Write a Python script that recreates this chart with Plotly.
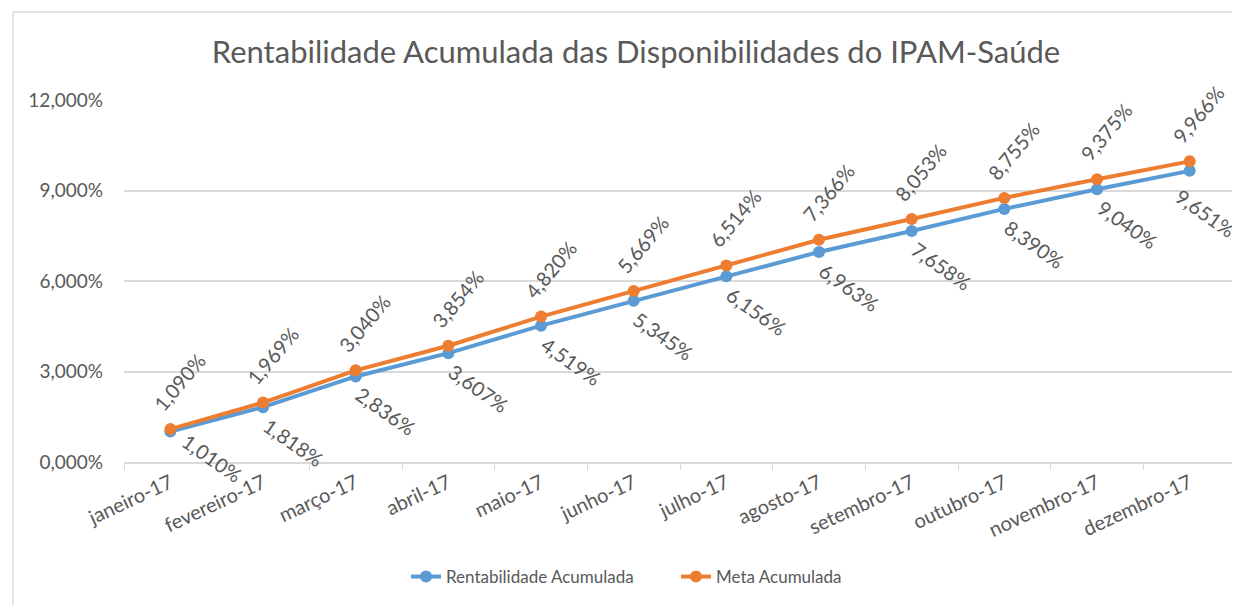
import plotly.graph_objects as go

meses = ["janeiro-17", "fevereiro-17", "março-17", "abril-17", "maio-17", "junho-17",
         "julho-17", "agosto-17", "setembro-17", "outubro-17", "novembro-17", "dezembro-17"]
rentabilidade = [1.010, 1.818, 2.836, 3.607, 4.519, 5.345, 6.156, 6.963, 7.658, 8.390, 9.040, 9.651]
meta = [1.090, 1.969, 3.040, 3.854, 4.820, 5.669, 6.514, 7.366, 8.053, 8.755, 9.375, 9.966]
y_ticks = [0, 3, 6, 9, 12]
y_ticktext = ["0,000%", "3,000%", "6,000%", "9,000%", "12,000%"]

BLUE = "#5B9BD5"
ORANGE = "#ED7D31"
GRAY = "#595959"
FONT = "Lato"

# page has an 8px body margin; figure drawn 8px smaller to fit the window
W, H = 1232, 597
L, R, T, B = 116, 4, 92, 143
PW, PH = W - L - R, H - T - B

def fmt(v):
    return f"{v:.3f}".replace(".", ",") + "%"

fig = go.Figure()
fig.add_trace(go.Scatter(x=meses, y=rentabilidade, name="Rentabilidade Acumulada",
                         mode="lines+markers", line=dict(color=BLUE, width=4),
                         marker=dict(size=12, color=BLUE)))
fig.add_trace(go.Scatter(x=meses, y=meta, name="Meta Acumulada",
                         mode="lines+markers", line=dict(color=ORANGE, width=4),
                         marker=dict(size=12, color=ORANGE)))

ann = []
for m, v in zip(meses, meta):
    ann.append(dict(x=m, y=v, xref="x", yref="y", text=fmt(v), showarrow=False,
                    textangle=-50, xshift=9, yshift=47,
                    font=dict(family=FONT, size=20, color=GRAY)))
n = len(meses)
for i, (m, v) in enumerate(zip(meses, rentabilidade)):
    if i == 0:
        xs, ys = 42, -26
    elif i == n - 1:
        xs, ys = 16, -42
    else:
        xs, ys = 30, -35
    ann.append(dict(x=m, y=v, xref="x", yref="y", text=fmt(v), showarrow=False,
                    textangle=35, xshift=xs, yshift=ys,
                    font=dict(family=FONT, size=20, color=GRAY)))

# chart border (left and top)
bx = (5 - L) / PW
by = (PH + T - 4) / PH
shapes = [
    dict(type="line", xref="paper", yref="paper", x0=bx, x1=bx,
         y0=by, y1=-B / PH - 0.1, line=dict(color="#D9D9D9", width=1.5)),
    dict(type="line", xref="paper", yref="paper", x0=bx, x1=1.05,
         y0=by, y1=by, line=dict(color="#D9D9D9", width=1.5)),
]

fig.update_layout(
    width=W, height=H,
    margin=dict(l=L, r=R, t=T, b=B),
    paper_bgcolor="white", plot_bgcolor="white",
    font=dict(family=FONT, color=GRAY),
    title=dict(text="Rentabilidade Acumulada das Disponibilidades do IPAM-Saúde",
               x=628 / W, xanchor="center", y=1 - 44 / H, yanchor="middle",
               font=dict(family=FONT, size=31, color=GRAY)),
    xaxis=dict(type="category", range=[-0.5, 11.5], showgrid=False,
               showline=True, linecolor="#D9D9D9", linewidth=1.5,
               ticks="outside", tickson="boundaries", ticklen=6, tickcolor="#D9D9D9",
               tickangle=-25, tickfont=dict(family=FONT, size=20, color=GRAY)),
    yaxis=dict(range=[0, 12], tickvals=y_ticks, ticktext=y_ticktext,
               showgrid=True, gridcolor="#D9D9D9", gridwidth=1.5,
               zeroline=False, showline=False, ticks="", ticklabelstandoff=20,
               tickfont=dict(family=FONT, size=19, color=GRAY)),
    legend=dict(orientation="h", x=(398 - L) / PW, xanchor="left",
                y=(T + PH - 569) / PH, yanchor="middle",
                entrywidth=225, entrywidthmode="pixels",
                font=dict(family=FONT, size=17, color=GRAY)),
    annotations=ann, shapes=shapes,
)

fig.write_html("out.html")
